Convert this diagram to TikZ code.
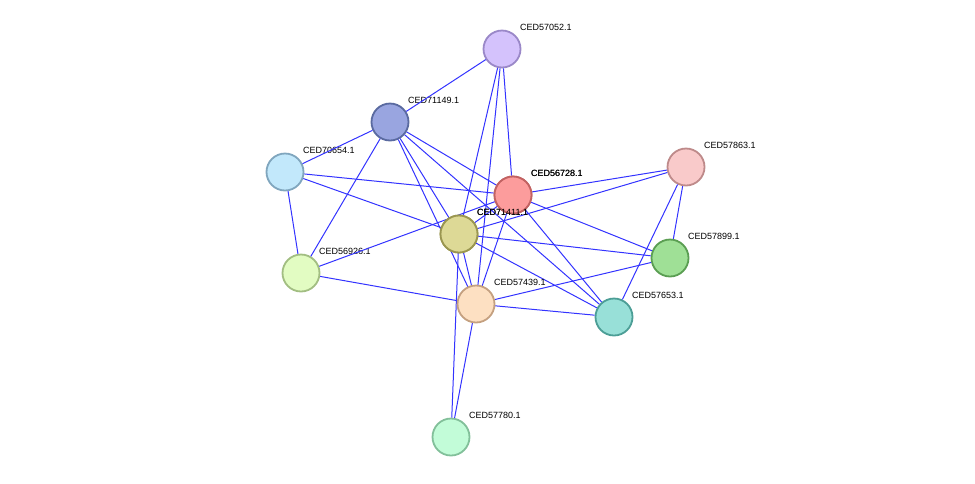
\documentclass[tikz,border=0pt]{standalone}
\usepackage{fontspec}
\setmainfont{Liberation Sans}
\begin{document}
\begin{tikzpicture}[x=1pt,y=-1pt,
  nd/.style={circle,minimum size=37pt,inner sep=0pt,line width=1.8pt},
  ed/.style={draw=blue!80!white,line width=1pt},
  lb/.style={anchor=west,font=\fontsize{9}{10}\selectfont,inner sep=0pt}]
\useasboundingbox (0,0) rectangle (975,483);
\def\N#1#2#3#4#5#6{\definecolor{f#1}{HTML}{#5}\definecolor{b#1}{HTML}{#6}
  \node[nd,fill=f#1,draw=b#1] (#1) at (#2,#3) {};
  \node[lb] (l#1) at (#2+18,#3-22) {#4};}
\N{a}{502}{49}{CED57052.1}{D4C2FC}{9A88C8}
\N{b}{390}{122}{CED71149.1}{99A5E0}{5A6AA0}
\N{c}{285}{172}{CED70654.1}{C2E8FB}{80A6BE}
\N{d}{513}{195}{CED56728.1}{FC9C9C}{C26262}
\N{e}{686}{167}{CED57863.1}{F9CACA}{BE8A8A}
\N{g}{670}{258}{CED57899.1}{9FE096}{5A9E52}
\N{h}{301}{273}{CED56926.1}{E2FCC2}{A2BE82}
\N{j}{614}{317}{CED57653.1}{98E0D8}{4C9E96}
\N{k}{451}{437}{CED57780.1}{C2FCD8}{82C09A}
\begin{scope}[on background layer/.style={}]
\end{scope}
\definecolor{fi}{HTML}{FDE0C2}\definecolor{bi}{HTML}{C4A080}
\definecolor{ff}{HTML}{DDD996}\definecolor{bf}{HTML}{9A9650}
\path (476,304) coordinate (ic) (459,234) coordinate (fc);
\foreach \u/\v in {a/b,a/d,b/c,b/d,b/j,b/h,c/d,c/h,d/e,d/g,d/j,d/h,e/j,e/g}
  \draw[ed] (\u) -- (\v);
\foreach \u in {a,b,d,j,h,k,g}
  \draw[ed] (\u) -- (ic);
\foreach \u in {a,b,c,d,e,g,j,k}
  \draw[ed] (\u) -- (fc);
\draw[ed] (fc) -- (ic);
\node[nd,fill=fi,draw=bi] (i) at (ic) {};
\node[lb] (li) at (476+18,304-22) {CED57439.1};
\node[nd,fill=ff,draw=bf] (f) at (fc) {};
\node[lb] (lf) at (459+18,234-22) {CED71411.1};
\node[nd,fill=fd,draw=bd] (d2) at (513,195) {};
\node[lb] at (513+18,195-22) {CED56728.1};
\node[nd,fill=ff,draw=bf] at (fc) {};
\node[lb] at (459+18,234-22) {CED71411.1};
\end{tikzpicture}
\end{document}
